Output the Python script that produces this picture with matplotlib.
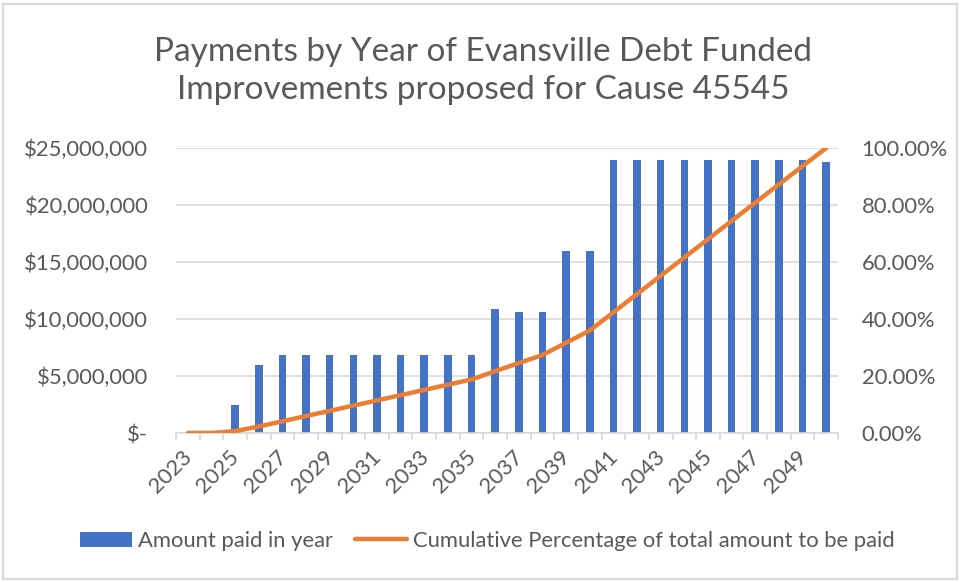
import matplotlib.pyplot as plt
from matplotlib.patches import Rectangle
from matplotlib.ticker import FuncFormatter, FixedLocator
from matplotlib.transforms import ScaledTranslation

# Years and amounts
years = list(range(2023, 2051))
amount_paid = [
    0, 0, 2_500_000, 6_000_000,
    6_850_000, 6_850_000, 6_850_000, 6_850_000, 6_850_000,
    6_850_000, 6_850_000, 6_850_000, 6_850_000,
    10_900_000, 10_600_000, 10_600_000,
    16_000_000, 16_000_000,
    23_950_000, 23_950_000, 23_950_000, 23_950_000, 23_950_000,
    23_950_000, 23_950_000, 23_950_000, 23_950_000,
    23_750_000,
]
cumulative_pct = [
    0.00, 0.00, 0.67, 2.28, 4.11, 5.94, 7.78, 9.61, 11.44, 13.28,
    15.11, 16.95, 18.78, 21.70, 24.53, 27.37, 31.66, 35.94, 42.35, 48.76,
    55.17, 61.58, 68.00, 74.41, 80.82, 87.23, 93.64, 100.00,
]

title = "Payments by Year of Evansville Debt Funded\nImprovements proposed for Cause 45545"
text_color = "#595959"
grid_color = "#d9d9d9"
font = "Lato"
fs = 15.8

W, H = 961, 582
fig = plt.figure(figsize=(W / 100, H / 100), dpi=100)

# plot area in pixels: left 176, right 838, top 148, bottom 433
ax = fig.add_axes([176 / W, 1 - 433 / H, (838 - 176) / W, (433 - 148) / H])
x = list(range(len(years)))

ax.bar(x, amount_paid, width=0.32, color="#4472C4", zorder=2,
       label="Amount paid in year")
ax.set_xlim(-0.5, len(years) - 0.5)
ax.set_ylim(0, 25_000_000)
ax.set_yticks(range(0, 25_000_001, 5_000_000))
ax.yaxis.set_major_formatter(FuncFormatter(
    lambda v, p: "$-" if v == 0 else f"${v:,.0f}"))
ax.grid(axis="y", color=grid_color, linewidth=1.2, zorder=0)
ax.set_axisbelow(True)

for s in ["top", "left", "right"]:
    ax.spines[s].set_visible(False)
ax.spines["bottom"].set_color(grid_color)
ax.spines["bottom"].set_linewidth(1.2)

ax.tick_params(axis="y", length=0, pad=20, labelsize=fs, labelcolor=text_color)
ax.set_xticks(x[::2])
ax.set_xticklabels([str(y) for y in years[::2]], rotation=45, ha="right",
                   va="top", rotation_mode="anchor", fontsize=fs,
                   color=text_color, fontfamily=font)
ax.tick_params(axis="x", length=0, pad=10)
shift = ScaledTranslation(-6 / 100, 0, fig.dpi_scale_trans)
for lbl in ax.get_xticklabels():
    lbl.set_transform(lbl.get_transform() + shift)
ax.xaxis.set_minor_locator(FixedLocator([i - 0.5 for i in range(len(years) + 1)]))
ax.tick_params(axis="x", which="minor", length=5, color=grid_color, width=1.2)
for lbl in ax.get_yticklabels():
    lbl.set_fontfamily(font)

ax2 = ax.twinx()
ax2.plot(x, cumulative_pct, color="#ED7D31", linewidth=3.2,
         solid_capstyle="round", zorder=3,
         label="Cumulative Percentage of total amount to be paid")
ax2.set_ylim(0, 100)
ax2.set_yticks(range(0, 101, 20))
ax2.yaxis.set_major_formatter(FuncFormatter(lambda v, p: f"{v:.2f}%"))
ax2.tick_params(axis="y", length=0, pad=17, labelsize=fs, labelcolor=text_color)
for lbl in ax2.get_yticklabels():
    lbl.set_fontfamily(font)
for s in ["top", "left", "right", "bottom"]:
    ax2.spines[s].set_visible(False)

fig.text(483 / W, 1 - 71 / H, title, ha="center", va="center", fontsize=24,
         color=text_color, fontfamily=font, linespacing=1.3)

h1, l1 = ax.get_legend_handles_labels()
h2, l2 = ax2.get_legend_handles_labels()
fig.legend(h1 + h2, l1 + l2, loc="center", bbox_to_anchor=(487 / W, 1 - 541 / H),
           ncol=2, frameon=False, handlelength=2.4, handletextpad=0.25,
           columnspacing=1.0,
           prop={"family": font, "size": fs}, labelcolor=text_color)

fig.patches.append(Rectangle((3 / W, 3 / H), (W - 7) / W, (H - 7) / H,
                             transform=fig.transFigure, fill=False,
                             edgecolor="#d9d9d9", linewidth=1.5))

fig.savefig("out.png", dpi=100, facecolor="white")
